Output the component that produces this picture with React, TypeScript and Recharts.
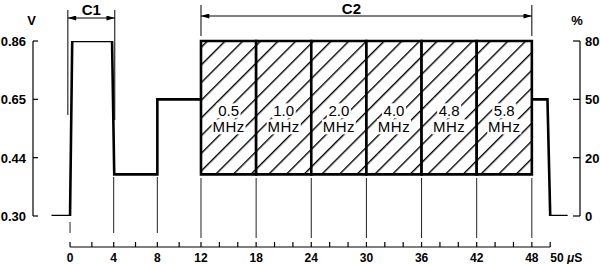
import { ComposedChart, Line, XAxis, YAxis, ReferenceArea, ReferenceLine } from 'recharts';

// waveform: time in µs, level in V (null = hidden under the C2 bursts)
const waveTime = [-1.7, 0, 0.2, 3.85, 4.05, 8, 8, 12, 30, 48, 49.7, 50, 51.9];
const waveVolts = [0.3, 0.3, 0.86, 0.86, 0.4, 0.4, 0.65, 0.65, null, 0.65, 0.65, 0.3, 0.3];

// C2 bursts
const burstStart = [12, 18, 24, 30, 36, 42];
const burstEnd = [18, 24, 30, 36, 42, 48];
const burstFreq = ['0.5', '1.0', '2.0', '4.0', '4.8', '5.8'];
const burstLow = 0.4;
const burstHigh = 0.86;

// brackets over the top
const c1Span = [-0.2, 4.1];
const c2Span = [12, 48];

const voltTicks = [0.3, 0.44, 0.65, 0.86];
const pctTicks = ['0', '20', '50', '80'];
const timeTicks = [0, 2, 4, 6, 8, 10, 12, 14, 16, 18, 20, 22, 24, 26, 28, 30, 32, 34, 36, 38, 40, 42, 44, 46, 48, 50];
const timeLabels = [0, 4, 8, 12, 18, 24, 30, 36, 42, 48, 50];

const FONT = '"Liberation Sans", Arial, Helvetica, sans-serif';

// the drawing is schematic: first 12 µs are drawn wider, volt ticks are evenly spaced
const STRETCH = 1.1875;
const wx = (t: number) => (t < 12 ? t * STRETCH : 12 * STRETCH + (t - 12));
const unwx = (w: number) => (w < 12 * STRETCH ? w / STRETCH : w - 12 * STRETCH + 12);
const wy = (v: number) => {
  for (let i = 1; i < voltTicks.length; i++) {
    if (v <= voltTicks[i] || i === voltTicks.length - 1) {
      return i - 1 + (v - voltTicks[i - 1]) / (voltTicks[i] - voltTicks[i - 1]);
    }
  }
  return 0;
};

const PLOT_TOP = 41;
const PLOT_BOTTOM = 216;
const STEP_PX = (PLOT_BOTTOM - PLOT_TOP) / (voltTicks.length - 1);
const py = (px: number) => (PLOT_BOTTOM - px) / STEP_PX;
const X_DOMAIN = [-4.03, 55.49];

const data = waveTime.map((t, i) => ({
  x: wx(t),
  v: waveVolts[i] == null ? null : wy(waveVolts[i] as number),
}));

function VoltTick({ x, y, payload }: any) {
  return (
    <g>
      <line x1={x} x2={x + 5} y1={y} y2={y} stroke="#000" strokeWidth={1.2} />
      <text x={x - 7} y={y} dy="0.38em" textAnchor="end" fontSize={13} fontWeight="bold" fontFamily={FONT} fill="#000">
        {voltTicks[payload.value].toFixed(2)}
      </text>
    </g>
  );
}

function PctTick({ x, y, payload }: any) {
  return (
    <g>
      <line x1={x - 7} x2={x} y1={y} y2={y} stroke="#000" strokeWidth={1.2} />
      <text x={x + 5} y={y} dy="0.38em" textAnchor="start" fontSize={13} fontWeight="bold" fontFamily={FONT} fill="#000">
        {pctTicks[payload.value]}
      </text>
    </g>
  );
}

function TimeTick({ x, y, payload }: any) {
  const t = Math.round(unwx(payload.value));
  const major = timeLabels.includes(t);
  let guide: number[] | null = null;
  if (t === 0) guide = [6, 17];
  else if (t === 4 || t === 8) guide = [-39, 17];
  else if (t >= 12 && t <= 48 && major) guide = [-38, 22];
  const last = t === timeLabels[timeLabels.length - 1];
  return (
    <g>
      {guide && <line x1={x} x2={x} y1={y + guide[0]} y2={y + guide[1]} stroke="#222" strokeWidth={1} />}
      <line x1={x} x2={x} y1={y + 26} y2={y + 31} stroke="#000" strokeWidth={1.2} />
      {major && (
        <text x={x} y={y + 46} textAnchor={last ? 'start' : 'middle'} fontSize={12} fontWeight="bold" fontFamily={FONT} fill="#000">
          {last ? (
            <>
              {t} <tspan fontStyle="italic">μ</tspan>S
            </>
          ) : (
            t
          )}
        </text>
      )}
    </g>
  );
}

const unitLabel = (text: string, dx: number) => (p: any) => {
  const vb = p.viewBox;
  return (
    <text x={vb.x + dx} y={vb.y - 16} textAnchor="middle" fontSize={13} fontWeight="bold" fontFamily={FONT} fill="#000">
      {text}
    </text>
  );
};

const bracketLabel = (text: string, dx: number, gap: number) => (p: any) => {
  const vb = p.viewBox;
  return (
    <text x={vb.x + vb.width / 2 + dx} y={vb.y - gap} textAnchor="middle" fontSize={15} fontWeight="bold" fontFamily={FONT} fill="#000">
      {text}
    </text>
  );
};

const burstLabel = (freq: string) => (p: any) => {
  const vb = p.viewBox;
  const cx = vb.x + vb.width / 2;
  const y1 = vb.y + vb.height * 0.52;
  const y2 = vb.y + vb.height * 0.64;
  return (
    <g>
      <rect x={cx - 12} y={y1 - 7} width={24} height={15} fill="#fff" />
      <rect x={cx - 17} y={y2 - 7} width={34} height={15} fill="#fff" />
      <text x={cx} y={y1} dy="0.36em" textAnchor="middle" fontSize={15} fontFamily={FONT} fill="#000">{freq}</text>
      <text x={cx} y={y2} dy="0.36em" textAnchor="middle" fontSize={15} fontFamily={FONT} fill="#000" letterSpacing={0.5}>MHz</text>
    </g>
  );
};

const arrowLine = (p: any) => (
  <line x1={p.x1} y1={p.y1} x2={p.x2} y2={p.y2} stroke="#000" strokeWidth={1.2}
    markerStart="url(#arrowHead)" markerEnd="url(#arrowHead)" />
);

export default function App() {
  return (
    <div style={{ position: 'absolute', left: 0, top: 0, background: '#fff' }}>
      <ComposedChart width={600} height={264} data={data} margin={{ top: PLOT_TOP, right: 0, bottom: 0, left: 0 }}>
        <defs>
          <pattern id="hatch" patternUnits="userSpaceOnUse" width={12.5} height={12.5} patternTransform="rotate(45)">
            <rect width={12.5} height={12.5} fill="#fff" />
            <line x1={0.7} y1={0} x2={0.7} y2={12.5} stroke="#000" strokeWidth={1.4} />
          </pattern>
          <marker id="arrowHead" viewBox="0 0 10 6" refX={10} refY={3} markerWidth={9} markerHeight={5}
            markerUnits="userSpaceOnUse" orient="auto-start-reverse">
            <path d="M0,0 L10,3 L0,6 z" fill="#000" />
          </marker>
        </defs>
        <XAxis dataKey="x" type="number" domain={X_DOMAIN} allowDataOverflow ticks={timeTicks.map(wx)} interval={0}
          tick={<TimeTick />} tickSize={0} tickMargin={0} axisLine={false} tickLine={false} height={48} />
        <YAxis yAxisId="l" type="number" domain={[0, 3]} allowDataOverflow ticks={[0, 1, 2, 3]} interval={0} width={33}
          tick={<VoltTick />} tickSize={0} tickMargin={0} tickLine={false}
          axisLine={{ stroke: '#000', strokeWidth: 1.2 }} label={unitLabel('V', 31.5)} />
        <YAxis yAxisId="r" orientation="right" type="number" domain={[0, 3]} allowDataOverflow ticks={[0, 1, 2, 3]} interval={0} width={20}
          tick={<PctTick />} tickSize={0} tickMargin={0} tickLine={false}
          axisLine={{ stroke: '#000', strokeWidth: 1.2 }} label={unitLabel('%', -3)} />

        {burstStart.map((s, i) => (
          <ReferenceArea key={s} yAxisId="l" x1={wx(s)} x2={wx(burstEnd[i])} y1={wy(burstLow)} y2={wy(burstHigh)}
            fill="url(#hatch)" fillOpacity={1} stroke="#000" strokeWidth={2.6} label={burstLabel(burstFreq[i])} />
        ))}

        <Line yAxisId="l" type="linear" dataKey="v" stroke="#000" strokeWidth={2.6} dot={false} activeDot={false}
          connectNulls={false} isAnimationActive={false} strokeLinejoin="miter" />

        {/* time axis baseline */}
        <ReferenceLine yAxisId="l" ifOverflow="visible" stroke="#000" strokeWidth={1.2}
          segment={[{ x: wx(timeLabels[0]), y: py(247) }, { x: wx(timeLabels[timeLabels.length - 1]), y: py(247) }]} />

        {/* C1 bracket */}
        <ReferenceLine yAxisId="l" ifOverflow="visible" stroke="#000" strokeWidth={1}
          segment={[{ x: wx(c1Span[0]), y: py(10) }, { x: wx(c1Span[0]), y: py(115) }]} />
        <ReferenceLine yAxisId="l" ifOverflow="visible" stroke="#000" strokeWidth={1}
          segment={[{ x: wx(c1Span[1]), y: py(10) }, { x: wx(c1Span[1]), y: py(120) }]} />
        <ReferenceLine yAxisId="l" ifOverflow="visible" shape={arrowLine} label={bracketLabel('C1', 0, 3)}
          segment={[{ x: wx(c1Span[0]), y: py(18) }, { x: wx(c1Span[1]), y: py(18) }]} />

        {/* C2 bracket */}
        <ReferenceLine yAxisId="l" ifOverflow="visible" stroke="#000" strokeWidth={1}
          segment={[{ x: wx(c2Span[0]), y: py(5) }, { x: wx(c2Span[0]), y: py(36) }]} />
        <ReferenceLine yAxisId="l" ifOverflow="visible" stroke="#000" strokeWidth={1}
          segment={[{ x: wx(c2Span[1]), y: py(5) }, { x: wx(c2Span[1]), y: py(36) }]} />
        <ReferenceLine yAxisId="l" ifOverflow="visible" shape={arrowLine} label={bracketLabel('C2', -15, 2)}
          segment={[{ x: wx(c2Span[0]), y: py(16) }, { x: wx(c2Span[1]), y: py(16) }]} />
      </ComposedChart>
    </div>
  );
}
